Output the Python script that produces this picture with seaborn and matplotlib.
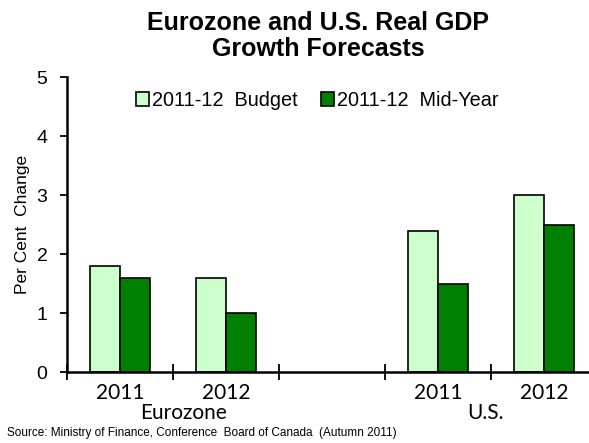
import matplotlib
matplotlib.use("Agg")
import matplotlib.pyplot as plt
import seaborn as sns
import pandas as pd
from matplotlib.patches import Patch

# slots on the x axis (an empty one between the two regions)
slots = ["EZ 2011", "EZ 2012", "gap", "US 2011", "US 2012"]
slot_labels = ["2011", "2012", "", "2011", "2012"]
bar_slots = ["EZ 2011", "EZ 2012", "US 2011", "US 2012"]
budget = [1.8, 1.6, 2.4, 3.0]
mid_year = [1.6, 1.0, 1.5, 2.5]
series = ["2011-12  Budget", "2011-12  Mid-Year"]
colors = ["#CCFFCC", "#008000"]
groups = ["Eurozone", "U.S."]
group_pos = [0.6, 3.45]

df = pd.DataFrame({
    "slot": bar_slots * 2,
    "value": budget + mid_year,
    "series": [series[0]] * 4 + [series[1]] * 4,
})

sns.set_style("ticks")
plt.rcParams["font.family"] = ["Liberation Sans", "DejaVu Sans"]
plt.rcParams["text.color"] = "black"
plt.rcParams["axes.labelcolor"] = "black"
plt.rcParams["xtick.color"] = "black"
plt.rcParams["ytick.color"] = "black"

fig = plt.figure(figsize=(5.89, 4.43), dpi=100)
ax = fig.add_axes([0.1138, 0.160, 0.90, 0.666])

sns.barplot(data=df, x="slot", y="value", hue="series", order=slots,
            hue_order=series, palette=colors, width=0.56, gap=0,
            edgecolor="black", linewidth=1.2, saturation=1, legend=False, ax=ax)

ax.set_xlim(-0.5, 4.5)
ax.set_ylim(0, 5)
ax.set_yticks(range(6))
ax.tick_params(axis="y", labelsize=14, length=5, width=1.3, pad=9, direction="out")

# year labels at slot centres, separator ticks at slot edges
ax.set_xticks(range(len(slots)))
ax.set_xticklabels(slot_labels, fontfamily="Lato", fontsize=15)
ax.tick_params(axis="x", which="major", length=0, pad=8)
ax.set_xticks([i - 0.5 for i in range(len(slots) + 1)], minor=True)
ax.tick_params(axis="x", which="minor", length=11, width=1.3, direction="inout")

for name, pos in zip(groups, group_pos):
    ax.text(pos, -0.138, name, transform=ax.get_xaxis_transform(),
            ha="center", va="center", fontfamily="Lato", fontsize=15)

ax.set_xlabel("")
ax.set_ylabel("Per Cent  Change", fontsize=12.5, labelpad=5)

sns.despine(ax=ax)
for s in ["left", "bottom"]:
    ax.spines[s].set_linewidth(1.8)
    ax.spines[s].set_color("black")

handles = [Patch(facecolor=c, edgecolor="black", linewidth=1.2) for c in colors]
ax.legend(handles, series, ncol=2, frameon=False, loc="upper left",
          bbox_to_anchor=(0.115, 0.98), fontsize=14.3, handlelength=0.65,
          handleheight=0.65, handletextpad=0.15, columnspacing=1.2,
          borderaxespad=0)

fig.text(0.54, 0.975, "Eurozone and U.S. Real GDP\nGrowth Forecasts",
         ha="center", va="top", fontsize=18, fontweight="bold", linespacing=1.1)
fig.text(0.012, 0.008, "Source: Ministry of Finance, Conference  Board of Canada  (Autumn 2011)",
         ha="left", va="bottom", fontsize=8.5)

fig.savefig("out.png", dpi=100)
